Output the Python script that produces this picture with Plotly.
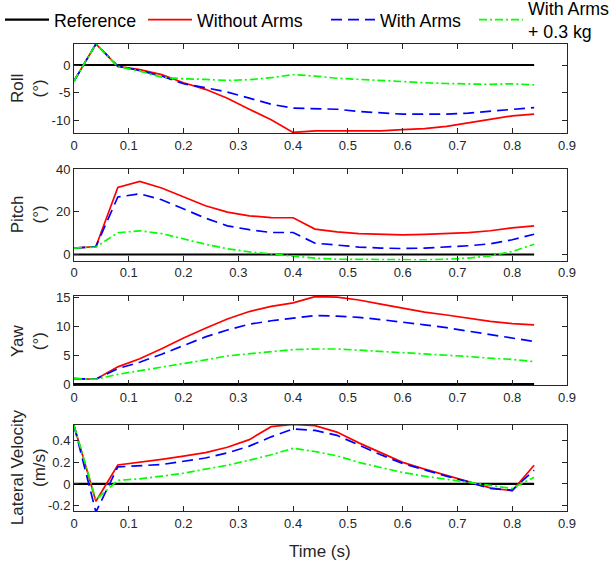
import plotly.graph_objects as go

time = [0.00, 0.04, 0.08, 0.12, 0.16, 0.20, 0.24, 0.28, 0.32, 0.36, 0.40,
        0.44, 0.48, 0.52, 0.56, 0.60, 0.64, 0.68, 0.72, 0.76, 0.80, 0.84]

reference = [0.0] * 22

roll_without = [-2.9, 3.8, -0.25, -0.85, -1.75, -3.2, -4.4, -6.0, -8.0, -9.9, -12.2,
                -11.9, -11.9, -11.95, -11.9, -11.7, -11.5, -11.1, -10.5, -9.9, -9.2, -8.9]
roll_with = [-2.9, 3.8, -0.2, -1.0, -2.0, -3.4, -4.1, -4.9, -6.0, -7.1, -7.8,
             -7.9, -8.0, -8.4, -8.7, -8.9, -8.9, -8.9, -8.7, -8.4, -8.1, -7.7]
roll_load = [-2.9, 3.8, -0.3, -1.1, -2.2, -2.5, -2.6, -2.8, -2.65, -2.3, -1.75,
             -2.0, -2.4, -2.6, -2.9, -3.1, -3.2, -3.35, -3.4, -3.5, -3.4, -3.6]

pitch_without = [3.0, 3.75, 31.4, 34.2, 31.1, 26.9, 22.8, 19.8, 18.1, 17.3, 17.2,
                 11.9, 10.6, 9.8, 9.4, 9.2, 9.4, 9.7, 10.2, 11.1, 12.5, 13.4]
pitch_with = [3.0, 3.7, 26.9, 28.4, 25.6, 21.4, 17.0, 13.4, 11.6, 10.3, 10.3,
              5.3, 4.3, 3.5, 3.0, 2.8, 3.0, 3.4, 4.1, 5.0, 6.9, 9.5]
pitch_load = [3.0, 3.5, 10.2, 11.1, 9.8, 7.3, 4.8, 2.7, 1.25, 0.3, -0.6,
              -1.7, -2.2, -2.3, -2.5, -2.6, -2.5, -2.2, -1.7, -0.6, 1.4, 4.8]

yaw_without = [0.95, 0.85, 3.0, 4.4, 6.15, 8.0, 9.7, 11.3, 12.6, 13.5, 14.1,
               15.2, 15.1, 14.6, 13.9, 13.2, 12.5, 12.0, 11.4, 10.9, 10.5, 10.3]
yaw_with = [0.95, 0.85, 2.7, 3.8, 5.2, 6.7, 8.2, 9.4, 10.4, 11.0, 11.4,
            11.9, 11.8, 11.6, 11.2, 10.8, 10.3, 9.8, 9.2, 8.7, 8.1, 7.4]
yaw_load = [0.95, 0.85, 1.7, 2.3, 3.0, 3.6, 4.2, 4.9, 5.3, 5.7, 6.0,
            6.1, 6.1, 5.9, 5.7, 5.4, 5.2, 5.0, 4.8, 4.5, 4.3, 3.9]

lat_without = [0.54, -0.16, 0.176, 0.2, 0.227, 0.257, 0.29, 0.34, 0.41, 0.53, 0.55,
               0.54, 0.48, 0.38, 0.29, 0.2, 0.137, 0.078, 0.024, -0.036, -0.063, 0.173]
lat_with = [0.54, -0.26, 0.158, 0.167, 0.18, 0.21, 0.24, 0.287, 0.35, 0.436, 0.51,
            0.495, 0.45, 0.36, 0.27, 0.19, 0.128, 0.072, 0.018, -0.042, -0.057, 0.128]
lat_load = [0.54, -0.146, 0.033, 0.048, 0.072, 0.1, 0.137, 0.173, 0.22, 0.27, 0.33,
            0.3, 0.26, 0.2, 0.152, 0.107, 0.072, 0.042, 0.018, -0.012, -0.042, 0.063]

series_names = ["Reference", "Without Arms", "With Arms", "With Arms<br>+ 0.3 kg"]
x_tick_vals = [0, 0.1, 0.2, 0.3, 0.4, 0.5, 0.6, 0.7, 0.8, 0.9]
x_tick_text = ["0", "0.1", "0.2", "0.3", "0.4", "0.5", "0.6", "0.7", "0.8", "0.9"]

panels = [
    dict(title="Roll<br>(°)", data=[reference, roll_without, roll_with, roll_load],
         yrange=[-12.3, 3.8], tickvals=[-10, -5, 0], ticktext=["-10", "-5", "0"]),
    dict(title="Pitch<br>(°)", data=[reference, pitch_without, pitch_with, pitch_load],
         yrange=[-2.8, 40], tickvals=[0, 20, 40], ticktext=["0", "20", "40"]),
    dict(title="Yaw<br>(°)", data=[reference, yaw_without, yaw_with, yaw_load],
         yrange=[-0.15, 15.3], tickvals=[0, 5, 10, 15], ticktext=["0", "5", "10", "15"]),
    dict(title="Lateral Velocity<br>(m/s)", data=[reference, lat_without, lat_with, lat_load],
         yrange=[-0.25, 0.55], tickvals=[-0.2, 0, 0.2, 0.4], ticktext=["-0.2", "0", "0.2", "0.4"]),
]

FONT = "Liberation Sans, Arial, Helvetica, sans-serif"
H = 570.0
W = 614.0
ML, MR = 74, 47
px_domains = [(44, 133), (169, 260.5), (296, 385), (424.5, 511)]

styles = [
    dict(color="#000000", width=2.2, dash="solid"),
    dict(color="#FF0000", width=1.7, dash="solid"),
    dict(color="#0000FF", width=1.7, dash="11px,6px"),
    dict(color="#00FF00", width=1.7, dash="8px,3px,2px,3px"),
]
legend_ids = ["legend", "legend2", "legend3", "legend4"]
legend_x = [-5, 143, 326, 474]  # container px of each legend's left edge

fig = go.Figure()
axis_font = dict(family=FONT, size=13, color="#262626")

for i, p in enumerate(panels):
    n = i + 1
    xa = "x" if n == 1 else f"x{n}"
    ya = "y" if n == 1 else f"y{n}"
    for j, vals in enumerate(p["data"]):
        fig.add_trace(go.Scatter(
            x=time, y=vals, mode="lines", name=series_names[j],
            line=styles[j], xaxis=xa, yaxis=ya,
            showlegend=(i == 0), legend=legend_ids[j],
        ))
    top, bot = px_domains[i]
    dom = [1 - bot / H, 1 - top / H]
    common = dict(showline=True, linecolor="#262626", linewidth=1, mirror="ticks",
                  ticks="inside", ticklen=5, tickcolor="#262626", showgrid=False,
                  zeroline=False, tickfont=axis_font)
    fig.layout[("xaxis" if n == 1 else f"xaxis{n}")] = dict(
        domain=[0, 1], anchor=ya, range=[0, 0.9], tickvals=x_tick_vals,
        ticktext=x_tick_text, **common)
    fig.layout[("yaxis" if n == 1 else f"yaxis{n}")] = dict(
        domain=dom, anchor=xa, range=p["yrange"], tickvals=p["tickvals"],
        ticktext=p["ticktext"], **common)
    fig.add_annotation(
        text=p["title"], textangle=-90, xref="paper", yref="paper",
        x=(28.5 - ML) / (W - ML - MR), y=(dom[0] + dom[1]) / 2,
        xanchor="center", yanchor="middle", showarrow=False,
        font=dict(family=FONT, size=17, color="#262626"),
    )

fig.add_annotation(
    text="Time (s)", xref="paper", yref="paper", x=(320 - ML) / (W - ML - MR), y=1 - 551 / H,
    xanchor="center", yanchor="middle", showarrow=False,
    font=dict(family=FONT, size=17, color="#262626"),
)

fig.update_layout(
    width=614, height=570,
    margin=dict(l=ML, r=MR, t=0, b=0, autoexpand=False),
    paper_bgcolor="white", plot_bgcolor="white",
    showlegend=True,
)
for k, lid in enumerate(legend_ids):
    fig.layout[lid] = dict(
        xref="container", yref="container", x=legend_x[k] / W, xanchor="left",
        y=1 - 20 / H, yanchor="middle", orientation="h",
        font=dict(family=FONT, size=17.8, color="#000000"),
        bgcolor="rgba(0,0,0,0)", itemwidth=44, borderwidth=0,
    )

fig.write_html("out.html", config={"displayModeBar": False},
               post_script="document.body.style.margin='0px';")
